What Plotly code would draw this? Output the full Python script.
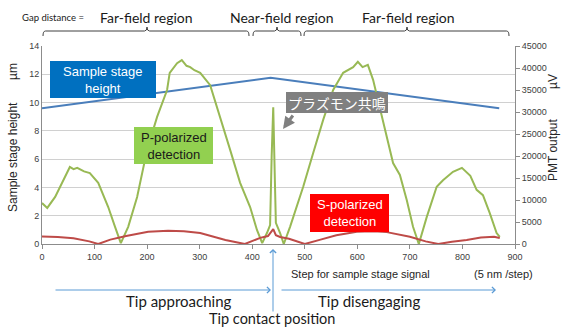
import plotly.graph_objects as go

# ---------------- data ----------------
stage_x = [0, 435, 870]
stage_h = [9.6, 11.75, 9.6]

p_x = [0, 10, 25, 38, 53, 60, 67, 80, 91, 107, 126, 139, 150, 164, 181, 200, 219, 238, 243, 257, 266,
       275, 282, 290, 301, 320, 339, 358, 377, 396, 409, 419, 428, 434, 437, 440, 443, 445, 453, 460,
       472, 478, 497, 516, 535, 554, 573, 592, 601, 610, 620, 630, 649, 668, 681, 694, 706, 717, 732,
       751, 763, 782, 799, 808, 815, 827, 839, 852, 865, 871]
p_val = [9300, 8200, 10700, 13900, 17500, 17000, 17300, 16500, 16100, 13900, 8400, 3900, 200, 3900,
         10700, 21400, 28900, 35000, 38900, 41100, 41800, 40500, 40200, 39500, 38900, 36100, 28900,
         21400, 13900, 8400, 3200, 200, 2500, 4300, 20000, 31100, 15000, 4800, 2500, 0, 3900, 6100,
         13000, 20700, 28200, 35000, 38900, 40200, 41400, 40200, 40700, 37300, 27500, 18400, 15700,
         10000, 3900, 0, 6100, 13000, 14500, 16400, 17300, 16400, 15500, 12300, 11100, 7000, 2500, 1600]

s_x = [0, 30, 60, 90, 107, 130, 160, 202, 240, 270, 301, 320, 349, 386, 400, 415, 430, 436, 440, 445,
       453, 470, 500, 530, 560, 599, 630, 656, 680, 700, 730, 754, 780, 808, 835, 860, 871]
s_val = [1700, 1600, 1300, 600, 0, 1000, 1800, 2800, 3000, 2900, 2500, 1800, 900, 0, 600, 1400, 1800,
         2700, 3400, 2000, 1600, 1200, 0, 1000, 2000, 2800, 2900, 2700, 2200, 1650, 600, 0, 500, 900,
         1500, 1650, 1350]

x_ticks = [0, 100, 200, 300, 400, 500, 600, 700, 800, 900]

# ---------------- layout helpers ----------------
W, H = 565, 327
L, R, T, B = 42, 515, 46, 244   # plot area in pixels


def px(xp):
    return (xp - L) / (R - L)


def py(yp):
    return (B - yp) / (B - T)


def dx(xp):
    return (xp - L) * 900 / (R - L)


def dy(yp):
    return (B - yp) * 14 / (B - T)


CAL = "Lato, 'Open Sans', sans-serif"
ARI = "'Liberation Sans', Arial, sans-serif"

fig = go.Figure()
fig.add_trace(go.Scatter(x=stage_x, y=stage_h, mode="lines", line=dict(color="#4A7EBB", width=2),
                         yaxis="y", showlegend=False, hoverinfo="skip"))
fig.add_trace(go.Scatter(x=p_x, y=p_val, mode="lines", line=dict(color="#98B954", width=2),
                         yaxis="y2", showlegend=False, hoverinfo="skip"))
fig.add_trace(go.Scatter(x=s_x, y=s_val, mode="lines", line=dict(color="#BE4B48", width=2),
                         yaxis="y2", showlegend=False, hoverinfo="skip"))

shapes = []
annotations = []


def box(x0p, x1p, y0p, y1p, color, text, tcolor, size=13, font=ARI):
    shapes.append(dict(type="rect", xref="x", yref="y", x0=dx(x0p), x1=dx(x1p), y0=dy(y1p), y1=dy(y0p),
                       fillcolor=color, line=dict(width=0), layer="above"))
    annotations.append(dict(xref="x", yref="y", x=dx((x0p + x1p) / 2), y=dy((y0p + y1p) / 2), text=text,
                            showarrow=False, font=dict(family=font, size=size, color=tcolor)))


box(50, 156, 61, 98, "#0070C0", "Sample stage<br>height", "white")
box(134, 213, 127, 164, "#92D050", "P-polarized<br>detection", "#1a1a1a")
box(310, 389, 194, 232, "#FF0000", "S-polarized<br>detection", "white")
box(286, 388, 92, 113, "#808080", "プラズモン共鳴", "white", size=14, font="'Noto Sans CJK JP'")

# gray arrow from the plasmon box
annotations.append(dict(xref="x", yref="y", x=dx(283), y=dy(129), ax=dx(294), ay=dy(114),
                        axref="x", ayref="y", text="", showarrow=True, arrowhead=2, arrowsize=0.8,
                        arrowwidth=3, arrowcolor="#808080"))


def ptext(xp, yp, text, size, font=CAL, color="#1a1a1a", angle=0, xanchor="center"):
    annotations.append(dict(xref="paper", yref="paper", x=px(xp), y=py(yp), text=text, showarrow=False,
                            textangle=angle, xanchor=xanchor, yanchor="middle",
                            font=dict(family=font, size=size, color=color)))


# top texts
ptext(20, 18, "Gap distance =", 9.5, xanchor="left")
ptext(146, 18, "Far-field region", 14)
ptext(282, 18, "Near-field region", 14)
ptext(408, 18, "Far-field region", 14)


def brace(x1, x2, xc):
    yb, ym, yt = py(36), py(31), py(27)
    a, b, c = px(x1), px(x2), px(xc)
    d = 2.5 / (R - L)
    path = (f"M {a},{yb} Q {a},{ym} {a+d},{ym} L {c-d},{ym} Q {c},{ym} {c},{yt} "
            f"Q {c},{ym} {c+d},{ym} L {b-d},{ym} Q {b},{ym} {b},{yb}")
    shapes.append(dict(type="path", xref="paper", yref="paper", path=path,
                       line=dict(color="#404040", width=1)))


brace(43, 249, 147)
brace(253, 301, 277)
brace(304, 509, 407)

# axis titles
ptext(13, 157, "Sample stage height", 12, font=ARI, color="#262626", angle=-90)
ptext(13, 72, "µm", 12, font=ARI, color="#262626", angle=-90)
ptext(553, 150, "PMT output", 12, font=ARI, color="#262626", angle=-90)
ptext(553, 82, "µV", 12, font=ARI, color="#262626", angle=-90)
ptext(289, 274, "Step for sample stage signal", 11, font=ARI, color="#262626", xanchor="left")
ptext(472, 274, "(5 nm /step)", 11, font=ARI, color="#262626", xanchor="left")

# bottom arrows
ACOL = "#5B9BD5"
annotations.append(dict(xref="paper", yref="paper", x=px(271), y=py(290), ax=-(271 - 54), ay=0,
                        text="", showarrow=True, arrowhead=4, arrowsize=1.2, arrowwidth=1, arrowcolor=ACOL))
annotations.append(dict(xref="paper", yref="paper", x=px(496), y=py(290), ax=-(496 - 280), ay=0,
                        text="", showarrow=True, arrowhead=4, arrowsize=1.2, arrowwidth=1, arrowcolor=ACOL))
annotations.append(dict(xref="paper", yref="paper", x=px(273), y=py(249), ax=0, ay=(313 - 249),
                        text="", showarrow=True, arrowhead=4, arrowsize=1.2, arrowwidth=1, arrowcolor=ACOL))

ptext(179, 301, "Tip approaching", 15)
ptext(369, 301, "Tip disengaging", 15)
ptext(272, 318, "Tip contact position", 14.5)

fig.update_layout(
    width=W, height=H, margin=dict(l=L, r=W - R, t=T, b=H - B, autoexpand=False),
    paper_bgcolor="white", plot_bgcolor="white",
    xaxis=dict(range=[0, 900], tickvals=x_ticks, ticktext=[str(v) for v in x_ticks], showgrid=False,
               zeroline=False, showline=True, linecolor="#8c8c8c", linewidth=1, ticks="outside",
               ticklen=4, tickcolor="#8c8c8c", automargin=False,
               tickfont=dict(family=ARI, size=9, color="#404040")),
    yaxis=dict(range=[0, 14], dtick=2, showgrid=True, gridcolor="#d0d0d0", gridwidth=1, zeroline=False,
               showline=True, linecolor="#8c8c8c", linewidth=1, ticks="", automargin=False,
               tickfont=dict(family=ARI, size=9, color="#404040")),
    yaxis2=dict(range=[0, 45000], dtick=5000, tickformat="d", overlaying="y", side="right",
                showgrid=False, zeroline=False, showline=True, linecolor="#8c8c8c", linewidth=1,
                ticks="outside", ticklen=4, tickcolor="#8c8c8c", automargin=False,
                tickfont=dict(family=ARI, size=9, color="#404040")),
    shapes=shapes, annotations=annotations,
)

fig.write_html("out.html", config={"displayModeBar": False},
               post_script="document.body.style.margin='0';")
